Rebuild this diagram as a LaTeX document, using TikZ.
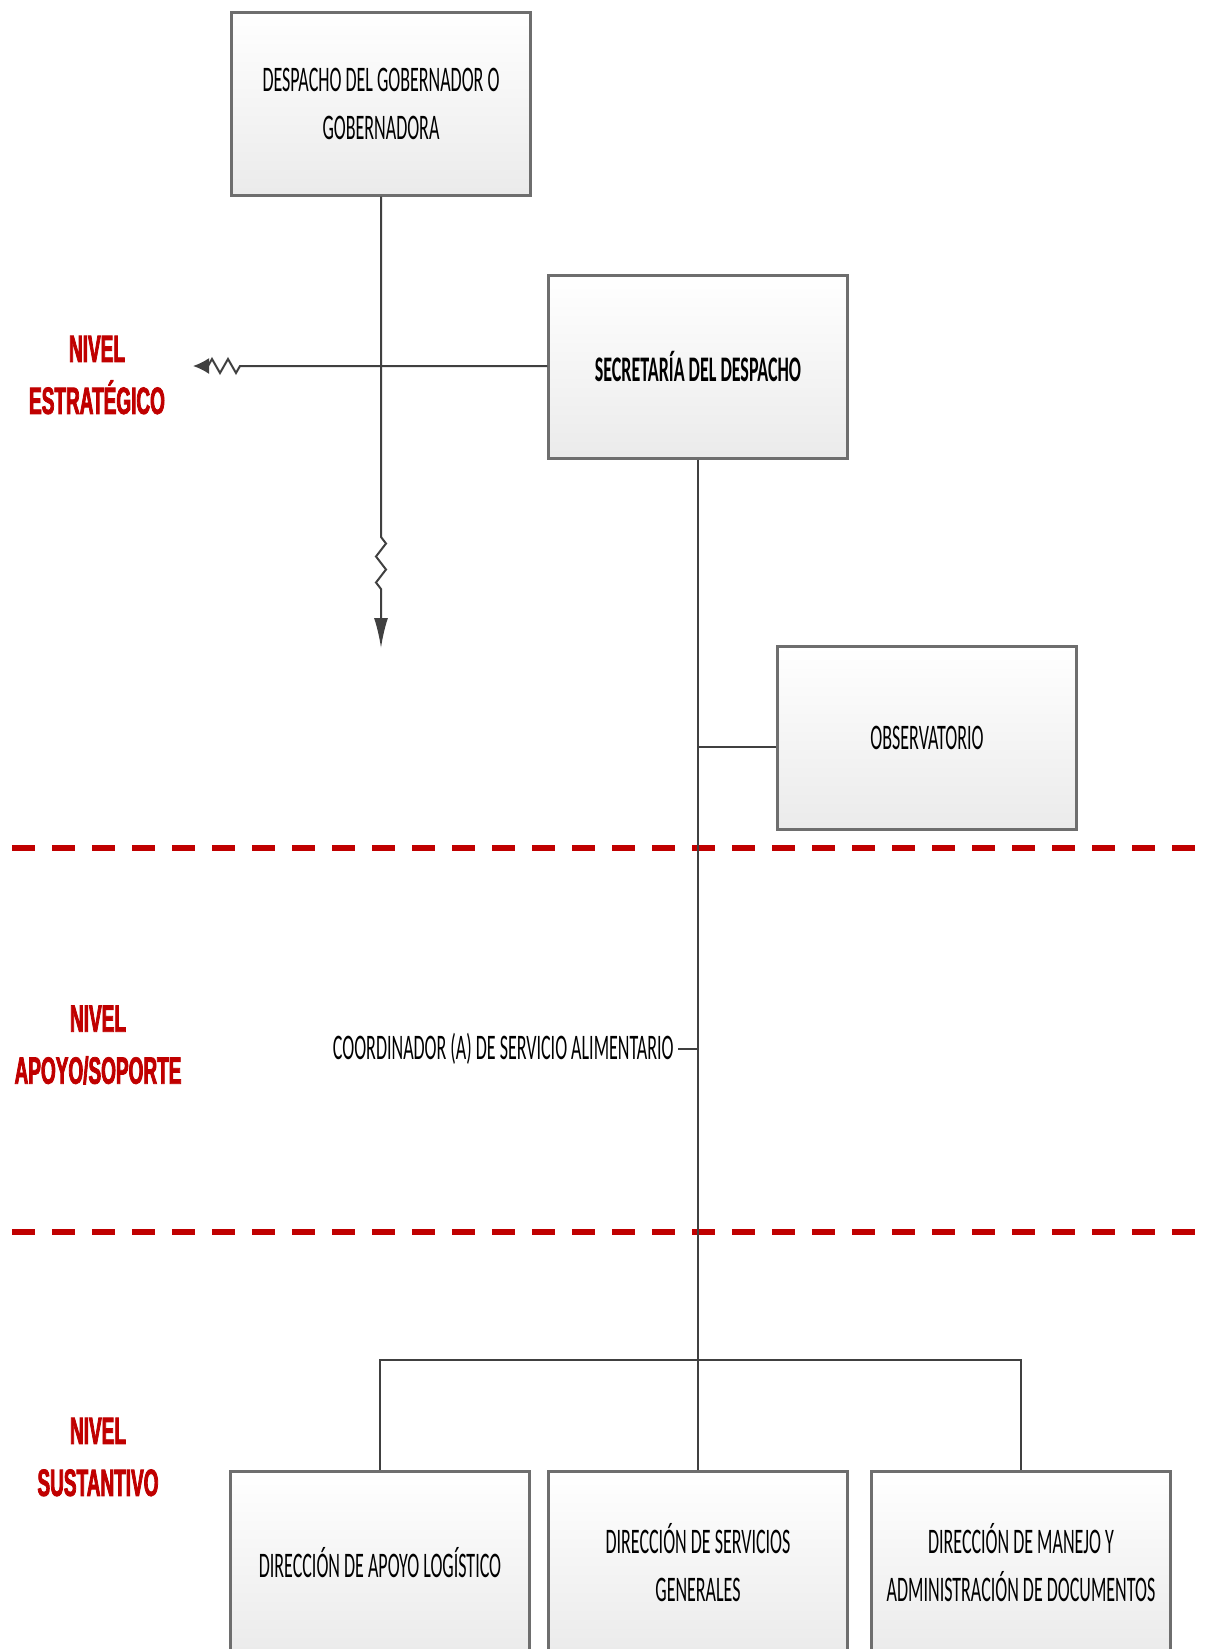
\documentclass[tikz,border=0pt]{standalone}
\usepackage{fontspec}
\usetikzlibrary{arrows.meta,decorations.pathmorphing}
\newfontfamily\boxfont[FakeStretch=0.5]{Carlito}
\newfontfamily\levelfont[FakeStretch=0.5,FakeBold=2]{Liberation Sans Bold}
\definecolor{levelred}{RGB}{192,0,0}
\definecolor{boxline}{RGB}{110,110,110}
\tikzset{
  unitbox/.style={draw=boxline, line width=1.2pt, top color=white, bottom color=black!8,
    minimum width=149.5pt, minimum height=91.5pt, align=center, font=\boxfont\fontsize{18}{24}\selectfont},
  leveltext/.style={text=levelred, align=center, font=\levelfont\fontsize{19}{26}\selectfont},
  levelline/.style={levelred, line width=3pt, dash pattern=on 11.5pt off 8.5pt},
  link/.style={draw=black!75, line width=1pt},
}
\begin{document}
\begin{tikzpicture}[x=0.5pt,y=-0.5pt]
  \useasboundingbox (0,0) rectangle (1208,1649);
  \draw[levelline] (12,848) -- (1208,848);
  \draw[levelline] (12,1232) -- (1208,1232);

  \node[unitbox] (despacho) at (381,104) {DESPACHO DEL GOBERNADOR O\\GOBERNADORA};
  \node[unitbox, font=\boxfont\bfseries\fontsize{18}{24}\selectfont] (secretaria) at (698,367) {SECRETARÍA DEL DESPACHO};
  \node[unitbox] (observatorio) at (927,738) {OBSERVATORIO};
  \node[font=\boxfont\fontsize{18}{24}\selectfont, anchor=east, inner sep=2pt] (coordinador) at (678,1049) {COORDINADOR (A) DE SERVICIO ALIMENTARIO};
  \node[unitbox] (logistica) at (380,1563) {DIRECCIÓN DE APOYO LOGÍSTICO};
  \node[unitbox] (servicios) at (698,1563) {DIRECCIÓN DE SERVICIOS\\GENERALES};
  \node[unitbox] (documentos) at (1021,1563) {DIRECCIÓN DE MANEJO Y\\ADMINISTRACIÓN DE DOCUMENTOS};

  \node[leveltext] (estrategico) at (97,375) {NIVEL\\ESTRATÉGICO};
  \node[leveltext] (apoyo) at (98,1045) {NIVEL\\APOYO/SOPORTE};
  \node[leveltext] (sustantivo) at (98,1457) {NIVEL\\SUSTANTIVO};

  \coordinate (zzA) at (381,537);
  \coordinate (zzB) at (381,592);
  \coordinate (tipD) at (381,648);
  \coordinate (zzC) at (240,366);
  \coordinate (zzD) at (208,366);
  \coordinate (tipS) at (193,366);
  \coordinate (obsjoin) at (698,747);
  \coordinate (bus) at (698,1360);

  \draw[link, -{Latex[length=15pt,width=7pt]}] (despacho.south) -- (zzA)
    decorate[decoration={zigzag, segment length=13pt, amplitude=2.5pt}] {-- (zzB)} -- (tipD);
  \draw[link, -{Latex[length=8pt,width=8pt]}] (secretaria.west |- zzC) -- (zzC)
    decorate[decoration={zigzag, segment length=8pt, amplitude=3.5pt}] {-- (zzD)} -- (tipS);
  \draw[link] (secretaria.south) -- (servicios.north);
  \draw[link] (obsjoin) -- (obsjoin -| observatorio.west);
  \draw[link] (coordinador.east) -- (coordinador.east -| secretaria.south);
  \draw[link] (logistica.north) -- (logistica.north |- bus) -- (documentos.north |- bus) -- (documentos.north);
\end{tikzpicture}
\end{document}
